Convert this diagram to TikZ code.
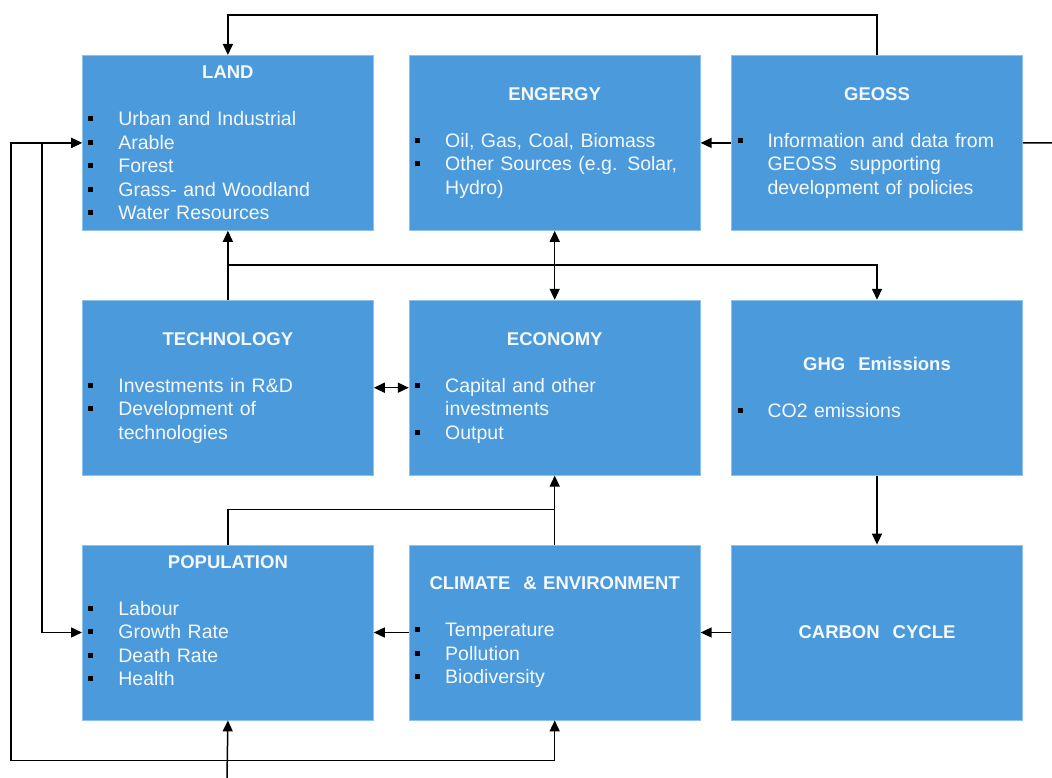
\documentclass[tikz,border=0pt]{standalone}
\usepackage{fontspec}
\usepackage{xcolor}
\setmainfont{Liberation Sans}
\usetikzlibrary{arrows, arrows.meta, positioning}

\definecolor{boxfill}{HTML}{4B9ADC}
\definecolor{boxline}{HTML}{8EC1EC}
\definecolor{boxtext}{HTML}{F5F8FC}

\newcommand{\boxttl}[1]{\makebox[279pt]{\fontsize{18.5}{23.5}\selectfont\bfseries #1}}
\newcommand{\bul}{\makebox[30pt][l]{\raisebox{4.5pt}{\textcolor{black}{\rule{5pt}{5pt}}}}}
\newcommand{\ind}{\hspace*{30pt}}

\tikzset{
  block/.style={rectangle, draw=boxline, line width=0.8pt, fill=boxfill, text=boxtext,
    minimum width=291pt, minimum height=175pt, text width=279pt, inner xsep=6pt,
    align=left, font=\fontsize{19.5}{23.5}\selectfont},
  link/.style={line width=1.5pt, >={Triangle[length=11pt,width=10pt]}}
}

\begin{document}
\begin{tikzpicture}[node distance=69pt]
\useasboundingbox (0,0) rectangle (1052pt,-778pt);

% top row
\node[block, anchor=north west] (land) at (82pt,-55pt)
  {\boxttl{LAND}\\[23.5pt]
   \bul Urban and Industrial\\
   \bul Arable\\
   \bul Forest\\
   \bul Grass- and Woodland\\
   \bul Water Resources};
\node[block, right=35pt of land] (energy)
  {\boxttl{ENGERGY}\\[23.5pt]
   \bul Oil, Gas, Coal, Biomass\\
   \bul Other Sources (e.g. Solar,\\
   \ind Hydro)};
\node[block, right=30.5pt of energy] (geoss)
  {\boxttl{GEOSS}\\[23.5pt]
   \bul Information and data from\\
   \ind GEOSS~~supporting\\
   \ind development of policies};

% middle row
\node[block, below=of land] (technology)
  {\boxttl{TECHNOLOGY}\\[23.5pt]
   \bul Investments in R\&D\\
   \bul Development of\\
   \ind technologies};
\node[block, below=of energy] (economy)
  {\boxttl{ECONOMY}\\[23.5pt]
   \bul Capital and other\\
   \ind investments\\
   \bul Output};
\node[block, below=of geoss] (ghg)
  {\boxttl{GHG~~Emissions}\\[23.5pt]
   \bul CO2 emissions};

% bottom row
\node[block, below=of technology] (population)
  {\boxttl{POPULATION}\\[23.5pt]
   \bul Labour\\
   \bul Growth Rate\\
   \bul Death Rate\\
   \bul Health\\
   ~};
\node[block, below=of economy] (climate)
  {\boxttl{CLIMATE~~\& ENVIRONMENT}\\[23.5pt]
   \bul Temperature\\
   \bul Pollution\\
   \bul Biodiversity};
\node[block, below=of ghg] (carbon)
  {\boxttl{CARBON~~CYCLE}};

% free ends at the edges
\coordinate (geossout) at (1052pt,-143pt);
\coordinate (popin) at (227pt,-778pt);

% links
\draw[link, ->] (geoss.north) -- ++(0,40pt) -| (land.north);
\draw[link, ->] (geoss) -- (energy);
\draw[link] (geoss.east) -- (geossout);
\draw[link, <->] (land.west) -- ++(-71pt,0) |- ([yshift=-40pt]climate.south) -- (climate.south);
\draw[link, <->] (land.west) -- ++(-40pt,0) |- (population.west);
\draw[link, ->] (popin) -- (population.south);
\draw[link, ->] (technology) -- (land);
\draw[link, ->] (technology.north) -- ++(0,35pt) -| (ghg.north);
\draw[link, <->] (energy) -- (economy);
\draw[link, <->] (technology) -- (economy);
\draw[link, ->] (ghg) -- (carbon);
\draw[link, ->] (carbon) -- (climate);
\draw[link, ->] (climate) -- (population);
\draw[link, ->] (climate) -- (economy);
\draw[link] (population.north) |- ([yshift=35pt]climate.north);
\end{tikzpicture}
\end{document}
